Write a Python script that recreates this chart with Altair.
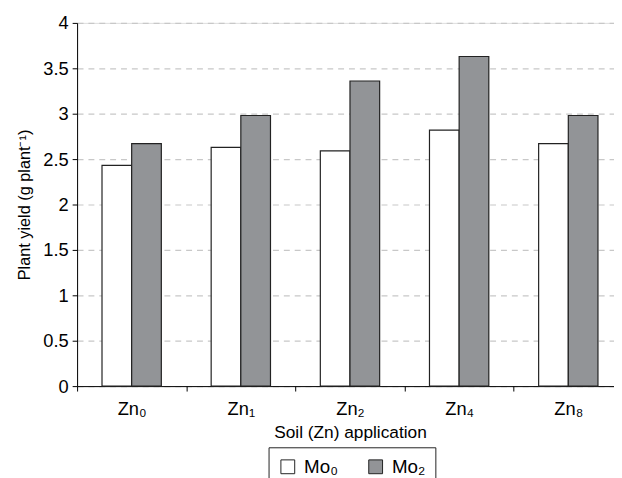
import altair as alt
import pandas as pd

categories = ["Zn₀", "Zn₁", "Zn₂", "Zn₄", "Zn₈"]
series = ["Mo₀", "Mo₂"]
mo0_values = [2.43, 2.63, 2.59, 2.82, 2.67]
mo2_values = [2.67, 2.98, 3.36, 3.63, 2.98]
y_ticks = [0, 0.5, 1, 1.5, 2, 2.5, 3, 3.5, 4]

rows = []
for c, a, b in zip(categories, mo0_values, mo2_values):
    rows.append({"zn": c, "mo": series[0], "yield": a})
    rows.append({"zn": c, "mo": series[1], "yield": b})
df = pd.DataFrame(rows)

FONT = "Liberation Sans"

chart = alt.Chart(df).mark_bar(stroke="#222222", strokeWidth=1.2).encode(
    x=alt.X("zn:N", sort=categories,
            scale=alt.Scale(range=[0, 553], paddingInner=0, paddingOuter=0),
            axis=alt.Axis(title="Soil (Zn) application", labelAngle=0,
                          tickBand="extent", tickSize=5, labelPadding=9,
                          titlePadding=6, domainColor="black", tickColor="black",
                          labelColor="black", titleColor="black",
                          labelFontSize=18.5, titleFontSize=17.5,
                          labelFont=FONT, titleFont=FONT, titleFontWeight="normal",
                          grid=False)),
    xOffset=alt.XOffset("mo:N", sort=series,
                        scale=alt.Scale(paddingInner=0, paddingOuter=0.84)),
    y=alt.Y("yield:Q",
            scale=alt.Scale(domain=[0, 4], nice=False),
            axis=alt.Axis(title="Plant yield (g plant⁻¹)", values=y_ticks, format="~g",
                          tickSize=5, labelPadding=4, titlePadding=10,
                          domainColor="black", tickColor="black",
                          labelColor="black", titleColor="black",
                          labelFontSize=18.5, titleFontSize=16.5,
                          labelFont=FONT, titleFont=FONT, titleFontWeight="normal",
                          grid=True, gridColor="#c8c8c8", gridDash=[6, 5],
                          gridWidth=1.2)),
    color=alt.Color("mo:N", sort=series,
                    scale=alt.Scale(domain=series, range=["#ffffff", "#929497"]),
                    legend=alt.Legend(title=None, orient="none", legendX=194, legendY=430,
                                      direction="horizontal", strokeColor="#222222",
                                      padding=10, symbolType="square", symbolSize=196,
                                      symbolStrokeColor="#222222", symbolStrokeWidth=1,
                                      labelFontSize=19, labelFont=FONT, labelColor="black",
                                      labelOffset=7, columnPadding=28)),
).properties(
    width=544,
    height=368,
    autosize=alt.AutoSizeParams(type="none"),
    padding={"left": 70, "right": 0, "top": 12, "bottom": 90},
).configure_view(
    stroke=None
).configure(background="white")

chart.save("out.html", embed_options={"renderer": "svg", "actions": False})
